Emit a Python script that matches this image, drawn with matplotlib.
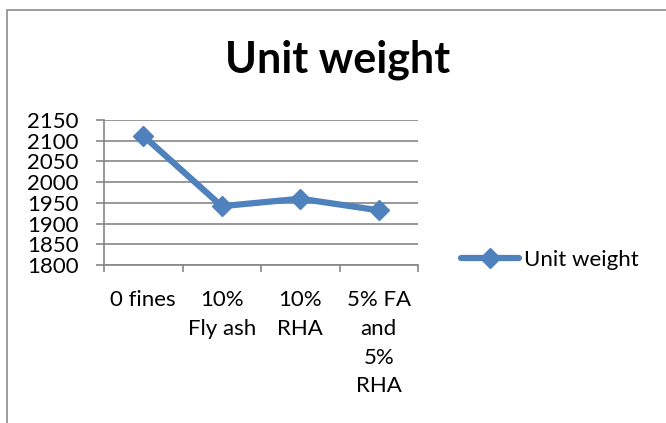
import matplotlib.pyplot as plt
from matplotlib.patches import Rectangle

plt.rcParams['font.family'] = ['Lato', 'DejaVu Sans']

mixes = ['0 fines', '10%\nFly ash', '10%\nRHA', '5% FA\nand\n5%\nRHA']
unit_weight = [2112, 1942, 1960, 1932]
y_ticks = [1800, 1850, 1900, 1950, 2000, 2050, 2100, 2150]

blue = '#4f81bd'
grey = '#868686'

fig = plt.figure(figsize=(6.66, 4.23), dpi=100)
ax = fig.add_axes([104 / 666, 1 - 265 / 423, 314 / 666, 145 / 423])

# chart frame (only the top and left edges fall inside the image)
fig.add_artist(Rectangle((7 / 666, -0.1), 1.2, 1 - 10 / 423 + 0.1,
                         transform=fig.transFigure, fill=False,
                         edgecolor='#8c8c8c', linewidth=1.2))

x = list(range(len(mixes)))
ax.plot(x, unit_weight, color=blue, linewidth=4.5, marker='D',
        markersize=10, label='Unit weight', solid_joinstyle='round',
        solid_capstyle='round')

ax.set_xlim(-0.5, len(mixes) - 0.5)
ax.set_ylim(1800, 2150)
ax.set_yticks(y_ticks)
ax.set_xticks(x)
ax.set_xticklabels(mixes, multialignment='center', linespacing=1.55)
ax.set_xticks([i - 0.5 for i in range(len(mixes) + 1)], minor=True)

ax.grid(axis='y', color=grey, linewidth=1.2)
ax.set_axisbelow(True)
for side in ['top', 'right']:
    ax.spines[side].set_visible(False)
for side in ['left', 'bottom']:
    ax.spines[side].set_color(grey)
    ax.spines[side].set_linewidth(1.2)

ax.tick_params(axis='y', length=6, color=grey, width=1.2, labelsize=16, pad=12)
ax.tick_params(axis='x', which='major', length=0, labelsize=16, pad=18)
ax.tick_params(axis='x', which='minor', length=5, color=grey, width=1.2)

fig.text(338 / 666, 1 - 60 / 423, 'Unit weight', ha='center', va='center',
         fontsize=31, fontweight='bold')

fig.legend(loc='center left', bbox_to_anchor=(452 / 666, 1 - 260 / 423),
           frameon=False, fontsize=16, handlelength=2.6, handletextpad=0.25,
           borderaxespad=0)

fig.savefig('out.png', dpi=100)
